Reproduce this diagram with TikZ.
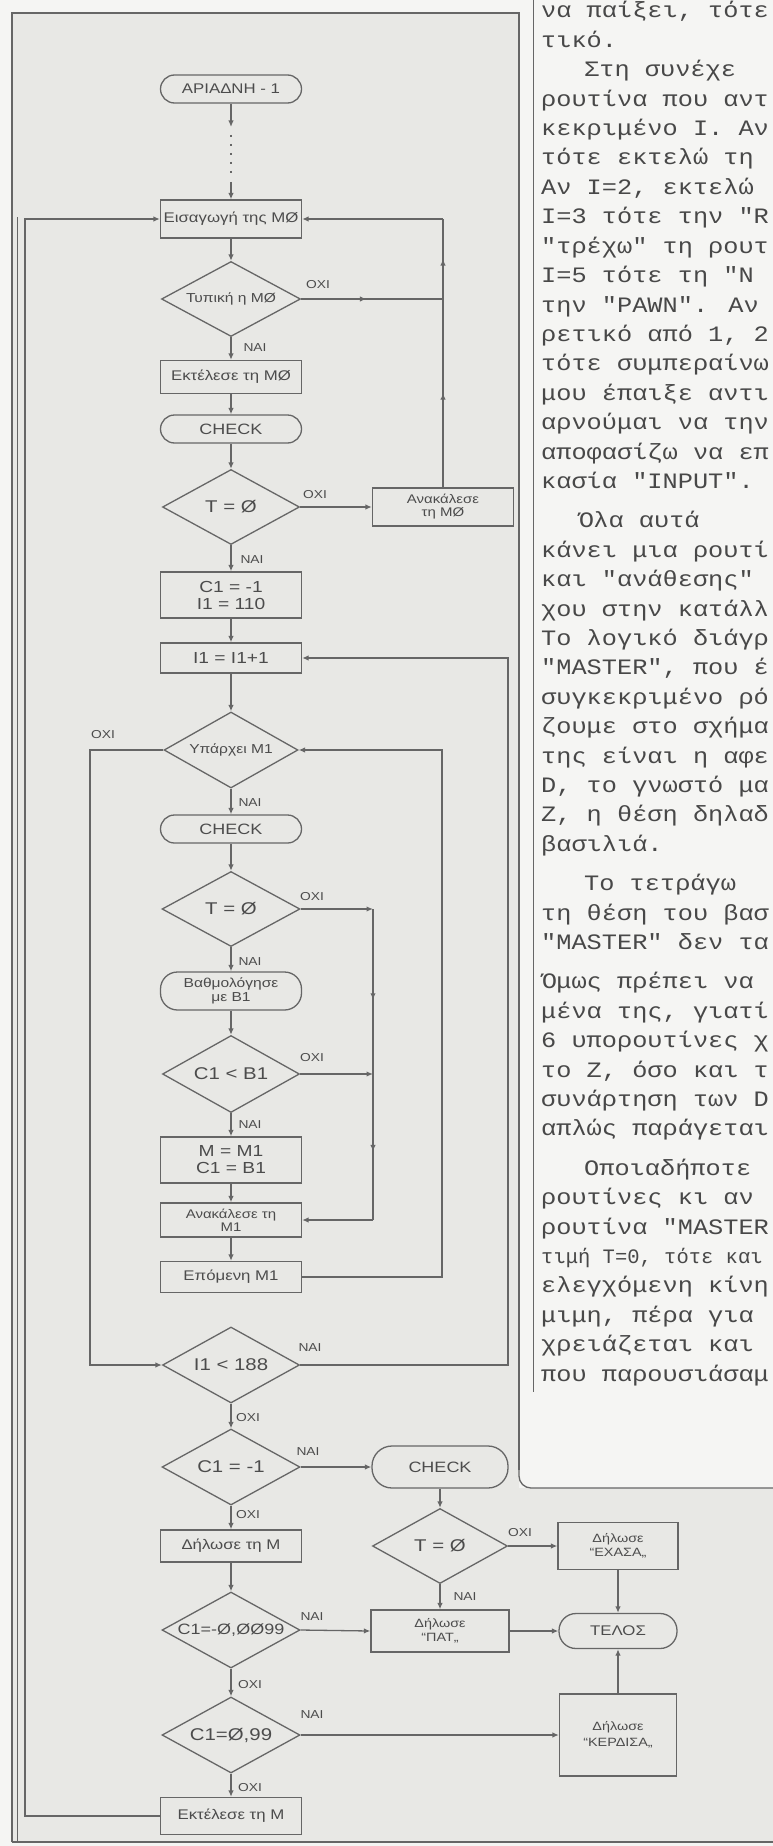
\documentclass[tikz,border=0pt]{standalone}
\usepackage{fontspec}
\setmainfont{Liberation Sans}
\newfontfamily\hfnt[FakeStretch=1.2]{Liberation Sans}
\newfontfamily\mfnt[FakeStretch=1.15]{Liberation Mono}
\newfontfamily\mfntn{Liberation Mono}
\usetikzlibrary{shapes.geometric,arrows.meta,decorations.markings}
\definecolor{ln}{HTML}{666666}
\definecolor{tx}{HTML}{4C4C4C}
\definecolor{txc}{HTML}{484848}
\definecolor{pg}{HTML}{F5F5F3}
\definecolor{fc}{HTML}{E8E8E5}
\tikzset{
 pbox/.style={draw=ln, line width=1.3pt, rectangle, minimum width=141pt, minimum height=34pt, inner sep=1pt, align=center, text=tx, font=\hfnt\fontsize{14}{15}\selectfont},
 pterm/.style={pbox, rounded corners=14pt},
 pdec/.style={draw=ln, line width=1.3pt, diamond, aspect=1.8, minimum width=138pt, minimum height=76pt, inner sep=0pt, align=center, text=tx, font=\hfnt\fontsize{17}{18}\selectfont},
 lab/.style={font=\hfnt\fontsize{11.5}{12}\selectfont, inner sep=0pt, text=tx},
 conn/.style={draw=ln, color=ln, line width=1.3pt},
 arr/.style={conn, -{Latex[length=6.5pt,width=5.5pt]}},
 midarr/.style={conn, postaction={decorate, decoration={markings, mark=at position #1 with {\arrow{Latex[length=6.5pt,width=5.5pt]}}}}},
 tl/.style={anchor=base west, inner sep=0pt, text=txc, font=\mfnt\fontsize{22}{24}\selectfont},
 frame/.style={draw=ln, line width=1.3pt},
}
\begin{document}
\begin{tikzpicture}[x=1pt,y=-1pt]
\useasboundingbox (0,0) rectangle (773,1846);
\fill[pg] (0,0) rectangle (773,1846);
\fill[fc] (12,13) -- (519,13) -- (519,1488) -- (773,1488) -- (773,1842) -- (12,1842) -- cycle;
% frame
\draw[frame] (12,1842) -- (12,13) -- (519,13) -- (519,1470);
\draw[frame, rounded corners=12pt] (519,1460) -- (519,1488) -- (773,1488);
\draw[frame] (12,1842) -- (773,1842);
\draw[frame, line width=1pt] (17,217) -- (17,1842);
\draw[frame, line width=1pt] (533,0) -- (533,1392);

% main column
\node[pterm, minimum height=28pt] (start) at (231,89) {ΑΡΙΑΔΝΗ - 1};
\node[pbox, minimum height=38pt] (input) at (231,219) {Εισαγωγή της MØ};
\node[pdec, font=\hfnt\fontsize{13}{14}\selectfont, minimum width=139pt, minimum height=75pt] (legal) at (231,299) {Τυπική η MØ};
\node[pbox, minimum height=33pt] (exec0) at (231,377) {Εκτέλεσε τη MØ};
\node[pterm, minimum height=28pt, font=\hfnt\fontsize{15}{16}\selectfont] (check1) at (231,429) {CHECK};
\node[pdec, minimum width=137pt, minimum height=75pt] (tz1) at (231,507) {T = Ø};
\node[pbox, minimum height=38pt, font=\hfnt\fontsize{12.5}{13}\selectfont] (undo0) at (443,507) {Ανακάλεσε\\τη MØ};
\node[pbox, minimum height=46pt, font=\hfnt\fontsize{16}{17}\selectfont] (init) at (231,595) {C1 = -1\\I1 = 110};
\node[pbox, minimum height=30pt, font=\hfnt\fontsize{16}{17}\selectfont] (inc) at (231,658) {I1 = I1+1};
\node[pdec, font=\hfnt\fontsize{13}{14}\selectfont, minimum width=134pt] (exists) at (231,750) {Υπάρχει M1};
\node[pterm, minimum height=28pt, font=\hfnt\fontsize{15}{16}\selectfont] (check2) at (231,829) {CHECK};
\node[pdec, minimum height=75pt] (tz2) at (231,909) {T = Ø};
\node[pterm, minimum height=38pt, rounded corners=17pt, font=\hfnt\fontsize{13}{14}\selectfont] (score) at (231,991) {Βαθμολόγησε\\με B1};
\node[pdec, minimum width=137pt, minimum height=77pt] (cmp) at (231,1074) {C1 < B1};
\node[pbox, minimum height=46pt, font=\hfnt\fontsize{16}{17}\selectfont] (assign) at (231,1160) {M = M1\\C1 = B1};
\node[pbox, minimum height=34pt, font=\hfnt\fontsize{12.5}{13}\selectfont] (undo1) at (231,1220) {Ανακάλεσε τη\\M1};
\node[pbox, minimum height=31pt] (next) at (231,1277) {Επόμενη M1};
\node[pdec, minimum width=137pt] (loop) at (231,1365) {I1 < 188};
\node[pdec] (neg) at (231,1467) {C1 = -1};
\node[pbox, minimum height=32pt] (decl) at (231,1546) {Δήλωσε τη M};
\node[pdec, font=\hfnt\fontsize{15}{16}\selectfont] (drawq) at (231,1630) {C1=-Ø,ØØ99};
\node[pdec] (winq) at (231,1735) {C1=Ø,99};
\node[pbox, minimum height=37pt] (exec) at (231,1816) {Εκτέλεσε τη M};

% right column
\node[pterm, minimum width=136pt, minimum height=42pt, rounded corners=20pt, font=\hfnt\fontsize{15}{16}\selectfont] (check3) at (440,1467) {CHECK};
\node[pdec, minimum width=135pt, minimum height=75pt] (tz3) at (440,1546) {T = Ø};
\node[pbox, minimum width=120pt, minimum height=47pt, font=\hfnt\fontsize{12}{14}\selectfont] (lost) at (618,1546) {Δήλωσε\\“ΕΧΑΣΑ„};
\node[pbox, minimum width=138pt, minimum height=42pt, font=\hfnt\fontsize{12}{14}\selectfont] (pat) at (440,1631) {Δήλωσε\\“ΠΑΤ„};
\node[pterm, minimum width=118pt, minimum height=35pt, rounded corners=17pt, font=\hfnt\fontsize{14}{15}\selectfont] (fin) at (618,1631) {ΤΕΛΟΣ};
\node[pbox, minimum width=117pt, minimum height=82pt, font=\hfnt\fontsize{12}{16}\selectfont] (won) at (618,1735) {Δήλωσε\\“ΚΕΡΔΙΣΑ„};

% labels
\node[lab] (l1) at (318,285) {ΟΧΙ};
\node[lab] (l2) at (255,348) {ΝΑΙ};
\node[lab] (l3) at (315,495) {ΟΧΙ};
\node[lab] (l4) at (252,560) {ΝΑΙ};
\node[lab] (l5) at (103,735) {ΟΧΙ};
\node[lab] (l6) at (250,803) {ΝΑΙ};
\node[lab] (l7) at (312,897) {ΟΧΙ};
\node[lab] (l8) at (250,962) {ΝΑΙ};
\node[lab] (l9) at (312,1058) {ΟΧΙ};
\node[lab] (l10) at (250,1125) {ΝΑΙ};
\node[lab] (l11) at (310,1348) {ΝΑΙ};
\node[lab] (l12) at (248,1418) {ΟΧΙ};
\node[lab] (l13) at (308,1452) {ΝΑΙ};
\node[lab] (l14) at (248,1515) {ΟΧΙ};
\node[lab] (l15) at (312,1617) {ΝΑΙ};
\node[lab] (l16) at (250,1685) {ΟΧΙ};
\node[lab] (l17) at (312,1715) {ΝΑΙ};
\node[lab] (l18) at (250,1788) {ΟΧΙ};
\node[lab] (l19) at (520,1533) {ΟΧΙ};
\node[lab] (l20) at (465,1597) {ΝΑΙ};

% connectors
\coordinate (d1) at (231,127);
\coordinate (d2) at (231,135);
\coordinate (d3) at (231,176);
\coordinate (d4) at (231,182);
\draw[arr] (start.south) -- (d1);
\draw[conn, dash pattern=on 2pt off 7pt] (d2) -- (d3);
\draw[arr] (d4) -- (input.north);
\draw[arr] (input.south) -- (legal.north);
\draw[arr] (legal.south) -- (exec0.north);
\draw[arr] (exec0.south) -- (check1.north);
\draw[arr] (check1.south) -- (tz1.north);
\draw[arr] (tz1.east) -- (undo0.west);
\coordinate (r1) at (443,299);
\coordinate (r2) at (443,219);
\draw[midarr=0.5] (undo0.north) -- (r1);
\draw[midarr=0.5] (r1) -- (r2);
\draw[arr] (r2) -- (input.east);
\draw[midarr=0.46] (legal.east) -- (r1);
\draw[arr] (tz1.south) -- (init.north);
\draw[arr] (init.south) -- (inc.north);
\draw[arr] (inc.south) -- (exists.north);
\draw[arr] (exists.south) -- (check2.north);
\draw[arr] (check2.south) -- (tz2.north);
\coordinate (r3) at (373,909);
\coordinate (r4) at (373,1074);
\coordinate (r5) at (373,1220);
\draw[arr] (tz2.east) -- (r3);
\draw[midarr=0.55] (r3) -- (r4);
\draw[midarr=0.53] (r4) -- (r5);
\draw[arr] (r5) -- (undo1.east);
\draw[arr] (tz2.south) -- (score.north);
\draw[arr] (score.south) -- (cmp.north);
\draw[arr] (cmp.east) -- (r4);
\draw[arr] (cmp.south) -- (assign.north);
\draw[arr] (assign.south) -- (undo1.north);
\draw[arr] (undo1.south) -- (next.north);
\coordinate (r6) at (442,1277);
\coordinate (r7) at (442,750);
\draw[arr] (next.east) -- (r6) -- (r7) -- (exists.east);
\coordinate (q1) at (90,750);
\coordinate (q2) at (90,1365);
\draw[arr] (exists.west) -- (q1) -- (q2) -- (loop.west);
\coordinate (o1) at (508,1365);
\coordinate (o2) at (508,658);
\draw[arr] (loop.east) -- (o1) -- (o2) -- (inc.east);
\draw[arr] (loop.south) -- (neg.north);
\draw[arr] (neg.east) -- (check3.west);
\draw[arr] (neg.south) -- (decl.north);
\draw[arr] (decl.south) -- (drawq.north);
\draw[arr] (drawq.east) -- (pat.west);
\draw[arr] (drawq.south) -- (winq.north);
\draw[arr] (winq.east) -- (won.west);
\draw[arr] (winq.south) -- (exec.north);
\coordinate (e1) at (25,1816);
\coordinate (e2) at (25,219);
\draw[arr] (exec.west) -- (e1) -- (e2) -- (input.west);
\draw[arr] (check3.south) -- (tz3.north);
\draw[arr] (tz3.east) -- (lost.west);
\draw[arr] (tz3.south) -- (pat.north);
\draw[arr] (pat.east) -- (fin.west);
\draw[arr] (lost.south) -- (fin.north);
\draw[arr] (won.north) -- (fin.south);

% text column
\node[tl] (t1) at (541,18) {να παίξει, τότε};
\node[tl] (t2) at (541,47.4) {τικό.};
\node[tl] (t3) at (584,76.8) {Στη συνέχε};
\node[tl] (t4) at (541,106.2) {ρουτίνα που αντ};
\node[tl] (t5) at (541,135.6) {κεκριμένο I. Αν};
\node[tl] (t6) at (541,165) {τότε εκτελώ τη};
\node[tl] (t7) at (541,194.4) {Αν I=2, εκτελώ};
\node[tl] (t8) at (541,223.8) {I=3 τότε την "R};
\node[tl] (t9) at (541,253.2) {"τρέχω" τη ρουτ};
\node[tl] (t10) at (541,282.6) {I=5 τότε τη "N};
\node[tl] (t11) at (541,312) {την "PAWN". Αν};
\node[tl] (t12) at (541,341.4) {ρετικό από 1, 2};
\node[tl] (t13) at (541,370.8) {τότε συμπεραίνω};
\node[tl] (t14) at (541,400.2) {μου έπαιξε αντι};
\node[tl] (t15) at (541,429.6) {αρνούμαι να την};
\node[tl] (t16) at (541,459) {αποφασίζω να επ};
\node[tl] (t17) at (541,488.4) {κασία "INPUT".};
\node[tl] (t18) at (578,527.8) {Όλα αυτά};
\node[tl] (t19) at (541,557.2) {κάνει μια ρουτί};
\node[tl] (t20) at (541,586.6) {και "ανάθεσης"};
\node[tl] (t21) at (541,616) {χου στην κατάλλ};
\node[tl] (t22) at (541,645.4) {Το λογικό διάγρ};
\node[tl] (t23) at (541,674.8) {"MASTER", που έ};
\node[tl] (t24) at (541,704.2) {συγκεκριμένο ρό};
\node[tl] (t25) at (541,733.6) {ζουμε στο σχήμα};
\node[tl] (t26) at (541,763) {της είναι η αφε};
\node[tl] (t27) at (541,792.4) {D, το γνωστό μα};
\node[tl] (t28) at (541,821.8) {Z, η θέση δηλαδ};
\node[tl] (t29) at (541,851.2) {βασιλιά.};
\node[tl] (t30) at (584,890.6) {Το τετράγω};
\node[tl] (t31) at (541,920) {τη θέση του βασ};
\node[tl] (t32) at (541,949.4) {"MASTER" δεν τα};
\node[tl] (t33) at (541,988.8) {Όμως πρέπει να};
\node[tl] (t34) at (541,1018.2) {μένα της, γιατί};
\node[tl] (t35) at (541,1047.6) {6 υπορουτίνες χ};
\node[tl] (t36) at (541,1077) {το Z, όσο και τ};
\node[tl] (t37) at (541,1106.4) {συνάρτηση των D};
\node[tl] (t38) at (541,1135.8) {απλώς παράγεται};
\node[tl] (t39) at (584,1175.2) {Οποιαδήποτε};
\node[tl] (t40) at (541,1204.6) {ρουτίνες κι αν};
\node[tl] (t41) at (541,1234) {ρουτίνα "MASTER};
\node[tl, font=\mfntn\fontsize{20.5}{23}\selectfont] (t42) at (541,1263.4) {τιμή T=0, τότε και};
\node[tl] (t43) at (541,1292.8) {ελεγχόμενη κίνη};
\node[tl] (t44) at (541,1322.2) {μιμη, πέρα για};
\node[tl] (t45) at (541,1351.6) {χρειάζεται και};
\node[tl] (t46) at (541,1381) {που παρουσιάσαμ};
\end{tikzpicture}
\end{document}
